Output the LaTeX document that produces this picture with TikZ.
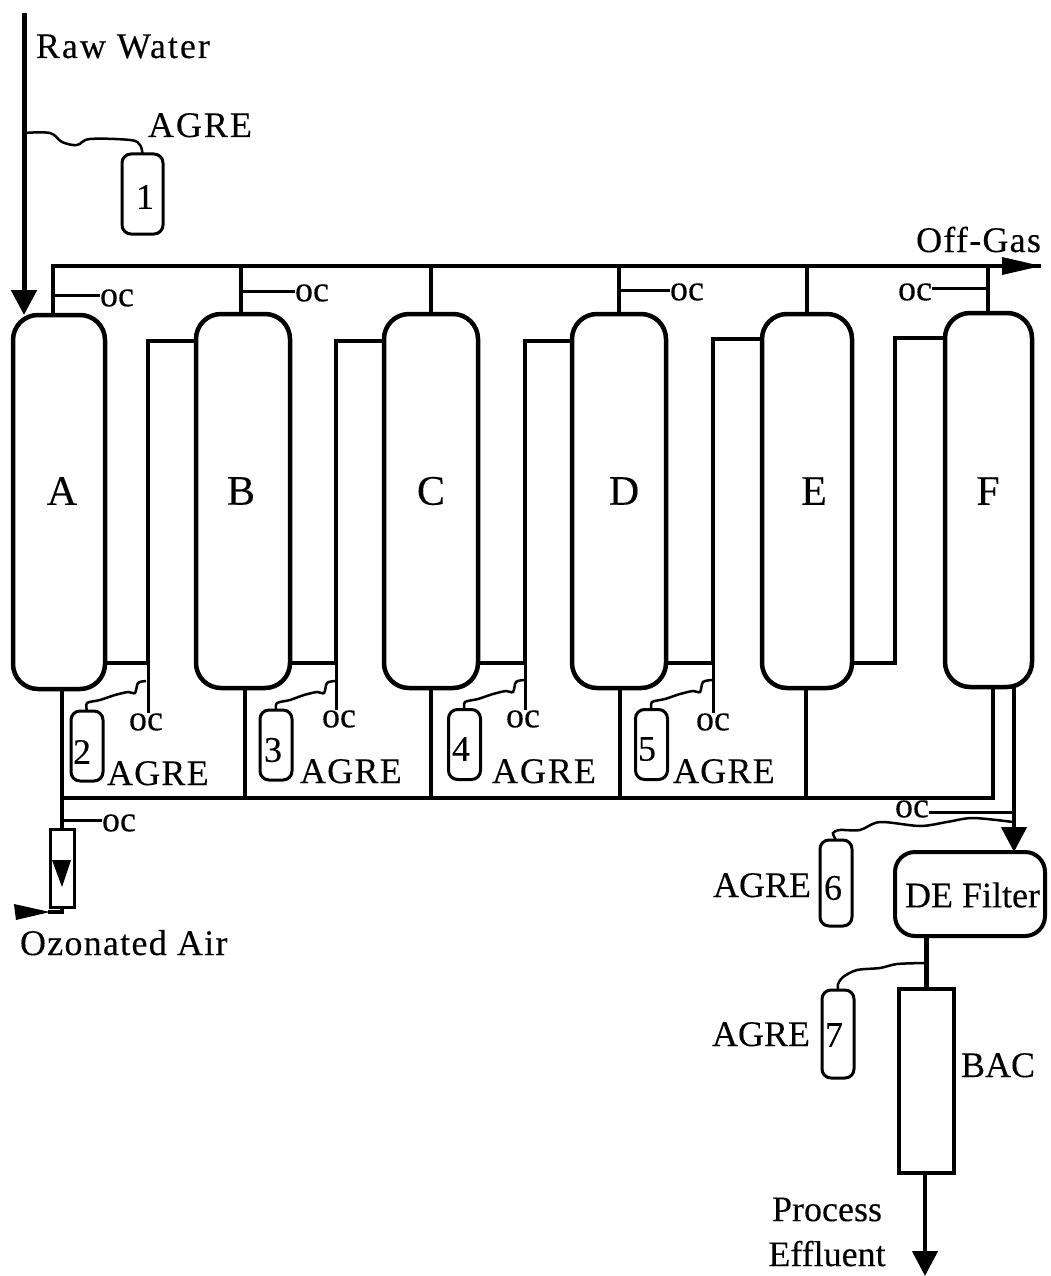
\documentclass[tikz,border=0pt]{standalone}
\usepackage{fontspec}
\setmainfont[FakeBold=0.2]{Liberation Serif}
\newfontfamily\widefont[LetterSpace=3.5,FakeBold=0.2]{Liberation Serif}
\newfontfamily\widerfont[LetterSpace=5.5,FakeBold=0.2]{Liberation Serif}
\usetikzlibrary{arrows.meta,positioning}
\tikzset{
  vessel/.style = {draw, line width=4.5pt, rounded corners=25pt, minimum width=92pt,
                   minimum height=374pt, inner sep=0pt, outer sep=0pt},
  tank/.style   = {draw, line width=3pt, rounded corners=9pt, minimum width=32pt,
                   minimum height=70pt, inner sep=0pt, outer sep=0pt},
  column/.style = {draw, line width=4pt, inner sep=0pt, outer sep=0pt},
  txt/.style    = {font=\fontsize{36}{45}\selectfont, inner sep=0pt, outer sep=0pt},
  big/.style    = {font=\fontsize{42}{45}\selectfont, inner sep=0pt, outer sep=0pt},
  wide/.style   = {font=\fontsize{36}{45}\selectfont\widefont, inner sep=0pt, outer sep=0pt},
  wider/.style  = {font=\fontsize{36}{45}\selectfont\widerfont, inner sep=0pt, outer sep=0pt},
  pipe/.style   = {line width=4.5pt},
  line/.style   = {line width=3.5pt},
  probe/.style  = {line width=3pt},
  wig/.style    = {line width=2.5pt},
  head/.style   = {-{Triangle[length=25pt,width=25pt]}}
}
\begin{document}
\begin{tikzpicture}[x=1pt,y=-1pt]
  \useasboundingbox (0,0) rectangle (1050,1276);
  % vessels
  \node[vessel] (A) at (59,502) {};
  \node[vessel,minimum width=94pt] (B) at (243,501) {};
  \node[vessel,minimum width=94pt] (C) at (431,501) {};
  \node[vessel,minimum width=94pt] (D) at (619,501) {};
  \node[vessel,minimum width=90pt] (E) at (807,501) {};
  \node[vessel,minimum width=87pt] (F) at (988.5,500) {};
  \node[big] (nameA) at (62,491) {A};
  \node[big] (nameB) at (241,491) {B};
  \node[big] (nameC) at (431,491) {C};
  \node[big] (nameD) at (624,491) {D};
  \node[big] (nameE) at (814,491) {E};
  \node[big] (nameF) at (988,491) {F};
  % tanks
  \node[tank,minimum width=41pt,minimum height=80pt] (t1) at (142.5,194) {};
  \node[tank] (t2) at (87,746) {};
  \node[tank] (t3) at (276,745) {};
  \node[tank] (t4) at (464.5,744.5) {};
  \node[tank] (t5) at (651.5,744.5) {};
  \node[tank,minimum height=86pt] (t6) at (836,883) {};
  \node[tank,minimum height=88pt] (t7) at (838,1034) {};
  \node[txt] (n1) at (145,197) {1};
  \node[txt] (n2) at (82,752) {2};
  \node[txt] (n3) at (273,750) {3};
  \node[txt] (n4) at (461,749) {4};
  \node[txt] (n5) at (647,749) {5};
  \node[txt] (n6) at (833,888) {6};
  \node[txt] (n7) at (834,1035) {7};
  % filter, carbon column, flow meter
  \node[vessel,minimum width=150pt,minimum height=84pt,rounded corners=20pt,
        line width=4pt] (de) at (970,894) {};
  \node[txt] (deName) at (972.5,895) {DE Filter};
  \node[column,minimum width=55pt,minimum height=184pt] (bac) at (926.5,1081) {};
  \node[column,line width=3pt,minimum width=24pt,minimum height=78pt] (fm) at (62,868) {};
  \fill (52,860) -- (71,860) -- (62,887) -- cycle;
  % labels
  \node[wider,anchor=base west] (raw) at (36,58) {Raw Water};
  \node[wider,anchor=base west] (ag1) at (148,137) {AGRE};
  \node[wide,anchor=base west] (ag2) at (107,785) {AGRE};
  \node[wide,anchor=base west] (ag3) at (300,783) {AGRE};
  \node[wider,anchor=base west] (ag4) at (492,783) {AGRE};
  \node[wide,anchor=base west] (ag5) at (673,783) {AGRE};
  \node[txt,anchor=base west] (ag6) at (713,897) {AGRE};
  \node[txt,anchor=base west] (ag7) at (712,1046) {AGRE};
  \node[wide,anchor=base west] (air) at (20,955) {Ozonated Air};
  \node[wide,anchor=base east] (off) at (1041,252) {Off-Gas};
  \node[txt,anchor=base west] (bacName) at (961,1077) {BAC};
  \node[txt,align=center] (eff) at (827,1232) {Process\\Effluent};
  \node[txt,anchor=west] (ocA) at (100,298) {oc};
  \node[txt,anchor=west] (ocB) at (295,293) {oc};
  \node[txt,anchor=west] (ocD) at (670,292) {oc};
  \node[txt,anchor=east] (ocF) at (932,292) {oc};
  \node[txt] (oc2) at (146,722) {oc};
  \node[txt] (oc3) at (339,719) {oc};
  \node[txt] (oc4) at (523,719) {oc};
  \node[txt] (oc5) at (713,722) {oc};
  \node[txt,anchor=west] (ocM) at (102,823) {oc};
  \node[txt] (ocE) at (912,809) {oc};
  % raw water and off-gas header
  \coordinate (rw) at (24,13);
  \coordinate (hs) at (53,266);
  \coordinate (he) at (1041,266);
  \draw[line width=5pt,head] (rw) -- (A.north -| rw);
  \draw[line] (A.north -| hs) -- (hs) -- (he);
  \fill (1002,257) -- (he) -- (1002,275) -- cycle;
  \draw[line] (B.north -| nameB) -- (nameB |- hs);
  \draw[line] (C.north -| nameC) -- (nameC |- hs);
  \draw[line] (D.north) -- (D.north |- hs);
  \draw[line] (E.north) -- (E.north |- hs);
  \draw[line] (F.north -| nameF) -- (nameF |- hs);
  \draw[probe] (ocA.west) ++(0,-3) -- (hs |- 0,295);
  \draw[probe] (ocB.west) ++(0,-2) -- (nameB |- 0,291);
  \draw[probe] (ocD.west) ++(0,-2) -- (D.north |- 0,290);
  \draw[probe] (ocF.east) ++(0,-4) -- (nameF |- 0,288);
  % transfer pipes
  \draw[pipe] ([yshift=-161pt]A.east) -- ++(43,0) coordinate (ab) |- ([yshift=160pt]B.west);
  \draw[pipe] ([yshift=-162pt]B.east) -- ++(46,0) coordinate (bc) |- ([yshift=160pt]C.west);
  \draw[pipe] ([yshift=-162pt]C.east) -- ++(47,0) coordinate (cd) |- ([yshift=160pt]D.west);
  \draw[pipe] ([yshift=-162pt]D.east) -- ++(47,0) coordinate (de1) |- ([yshift=162pt]E.west);
  \draw[pipe] ([yshift=-162pt]E.east) -- ++(43,0) |- ([yshift=162pt]F.west);
  \draw[probe] (ab) -- (ab |- oc2.north);
  \draw[probe] (bc) -- (bc |- oc3.north);
  \draw[probe] (cd) -- (cd |- oc4.north);
  \draw[probe] (de1) -- (de1 |- oc5.north);
  % ozonated air main
  \coordinate (am) at (62,798);
  \draw[line] (A.south -| am) -- (fm.north);
  \draw[line] (am) -- (993,798) coordinate (fb) -- (F.south -| fb);
  \draw[line] (B.south -| 245,0) -- (245,798);
  \draw[line] (C.south -| 431,0) -- (431,798);
  \draw[line] (D.south -| 620,0) -- (620,798);
  \draw[line] (E.south -| 806,0) -- (806,798);
  \draw[probe] (62,820) -- (ocM.west |- 0,820);
  \coordinate (air0) at (14,912);
  \draw[line] (fm.south) -- (62,912) -- (48,912);
  \fill (air0) ++(0,-8) -- (50,912) -- (16,920) -- cycle;
  % product line
  \coordinate (pr) at (1014,687);
  \draw[pipe,head] (pr) -- (pr |- de.north);
  \draw[probe] (ocE.east) ++(0,3) -- (1013,812);
  \draw[pipe] (de.south -| bac.north) -- (bac.north);
  \coordinate (out) at (925,1276);
  \draw[pipe,head] (bac.south -| out) -- (out);
  % sampling lines
  \draw[wig] plot[smooth,tension=0.6] coordinates {(24,133) (50,133) (62,142) (77,145) (90,139) (130,140) (140,145) (t1.north)};
  \draw[wig] plot[smooth,tension=0.5] coordinates {(t2.north) (87,703) (100,700) (115,695) (128,692) (135,693) (138,683) (146,681)};
  \draw[wig] plot[smooth,tension=0.5] coordinates {(t3.north) (277,703) (290,700) (304,695) (317,692) (324,693) (327,683) (335,681)};
  \draw[wig] plot[smooth,tension=0.5] coordinates {(t4.north) (465,702) (478,699) (493,694) (506,691) (513,692) (516,682) (524,680)};
  \draw[wig] plot[smooth,tension=0.5] coordinates {(t5.north) (652,702) (665,699) (680,694) (693,691) (700,692) (703,682) (712,680)};
  \draw[wig] plot[smooth,tension=0.5] coordinates {(t6.north) (833,833) (840,830) (860,830) (880,822) (920,826) (947,822) (973,818) (1013,822)};
  \draw[wig] plot[smooth,tension=0.5] coordinates {(t7.north) (838,984) (843,977) (857,970) (880,968) (897,964) (925,963)};
\end{tikzpicture}
\end{document}
